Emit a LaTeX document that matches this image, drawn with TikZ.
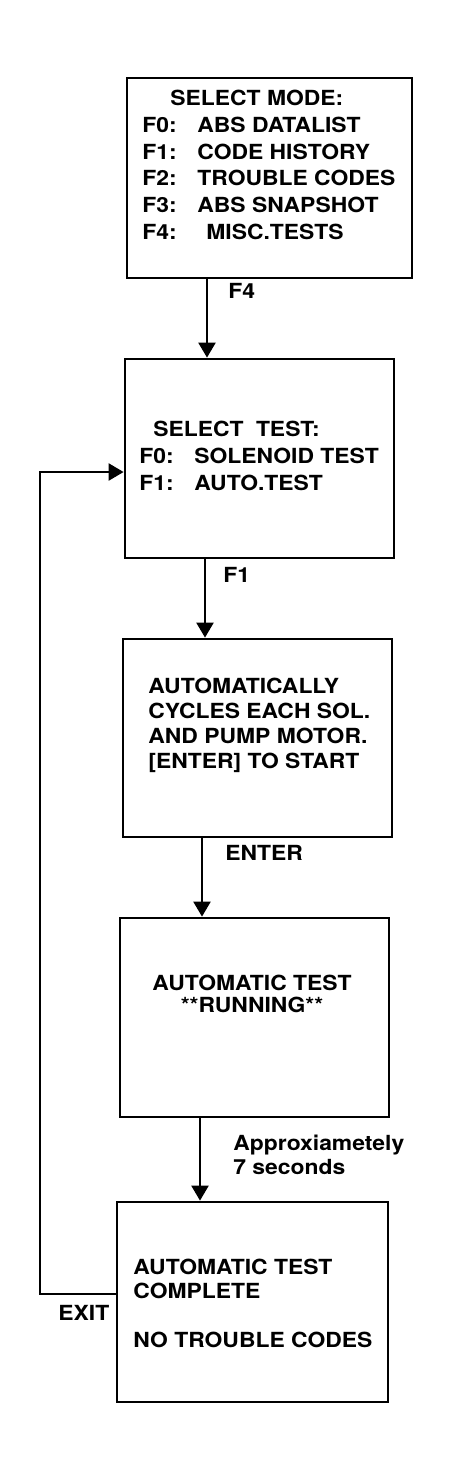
\documentclass[tikz,border=0pt]{standalone}
\usepackage{fontspec}
\setmainfont{TeX Gyre Heros}[FakeStretch=1.1]
\usetikzlibrary{arrows.meta}

\begin{document}
\begin{tikzpicture}[x=1pt,y=-1pt,
                box/.style={draw,line width=1.4pt,rectangle},
                txt/.style={font=\bfseries\fontsize{10.4}{12.5}\selectfont,inner sep=0pt},
                lbl/.style={font=\bfseries\fontsize{10.4}{12}\selectfont,inner sep=0pt,anchor=west},
                arr/.style={line width=1.2pt,-{Triangle[length=7.5pt,width=8.5pt]}}]
                        \useasboundingbox (0,0) rectangle (225,740);
                        \node[box,minimum width=142.5pt,minimum height=100pt] (mode) at (134.75,89) {};
                        \node[box,minimum width=134.5pt,minimum height=99.5pt] (test) at (129.75,229.25) {};
                        \node[box,minimum width=134.5pt,minimum height=99pt] (cycle) at (128.75,369) {};
                        \node[box,minimum width=134.5pt,minimum height=99.5pt] (run) at (127.25,508.75) {};
                        \node[box,minimum width=135.5pt,minimum height=100pt] (done) at (126.25,651) {};
                        \node[txt,align=left,anchor=west,font=\bfseries\fontsize{10.4}{13.4}\selectfont] (modetxt) at (71,82.5)
                                {\hspace*{14pt}SELECT MODE:\\
                                 \makebox[27.5pt][l]{F0:}ABS DATALIST\\
                                 \makebox[27.5pt][l]{F1:}CODE HISTORY\\
                                 \makebox[27.5pt][l]{F2:}TROUBLE CODES\\
                                 \makebox[27.5pt][l]{F3:}ABS SNAPSHOT\\
                                 \makebox[27.5pt][l]{F4:}\hspace*{4.5pt}MISC.TESTS};
                        \node[txt,align=left,anchor=west,font=\bfseries\fontsize{10.4}{13.5}\selectfont] (testtxt) at (69.5,227.8)
                                {\hspace*{7pt}SELECT\hspace*{3pt} TEST:\\
                                 \makebox[27.5pt][l]{F0:}SOLENOID TEST\\
                                 \makebox[27.5pt][l]{F1:}AUTO.TEST};
                        \node[txt,align=left,anchor=west] (cycletxt) at (74,362.9)
                                {AUTOMATICALLY\\CYCLES EACH SOL.\\AND PUMP MOTOR.\\{[ENTER]} TO START};
                        \node[txt,align=center,font=\bfseries\fontsize{10.4}{11}\selectfont] (runtxt) at (126,497)
                                {AUTOMATIC TEST\\**RUNNING**};
                        \node[txt,align=left,anchor=west,font=\bfseries\fontsize{10.4}{12}\selectfont] (donetxt) at (66.5,651.75)
                                {AUTOMATIC TEST\\COMPLETE\\[12.5pt]NO TROUBLE CODES};
                        \draw[arr] (mode.south -| 103.5,0) -- (test.north -| 103.5,0);
                        \draw[arr] (test.south -| 102.5,0) -- (cycle.north -| 102.5,0);
                        \draw[arr] (cycle.south -| 101,0) -- (run.north -| 101,0);
                        \draw[arr] (run.south -| 100,0) -- (done.north -| 100,0);
                        \draw[arr] (done.west |- 0,647) -- (20,647) |- (test.west |- 0,236);
                        \node[lbl] (f4) at (114,145.5) {F4};
                        \node[lbl] (f1) at (111.5,287.5) {F1};
                        \node[lbl] (enter) at (112.5,426.5) {ENTER};
                        \node[lbl,align=left] (approx) at (116.5,577.5) {Approxiametely\\7 seconds};
                        \node[lbl] (exit) at (29,656.5) {EXIT};
\end{tikzpicture}
\end{document}
